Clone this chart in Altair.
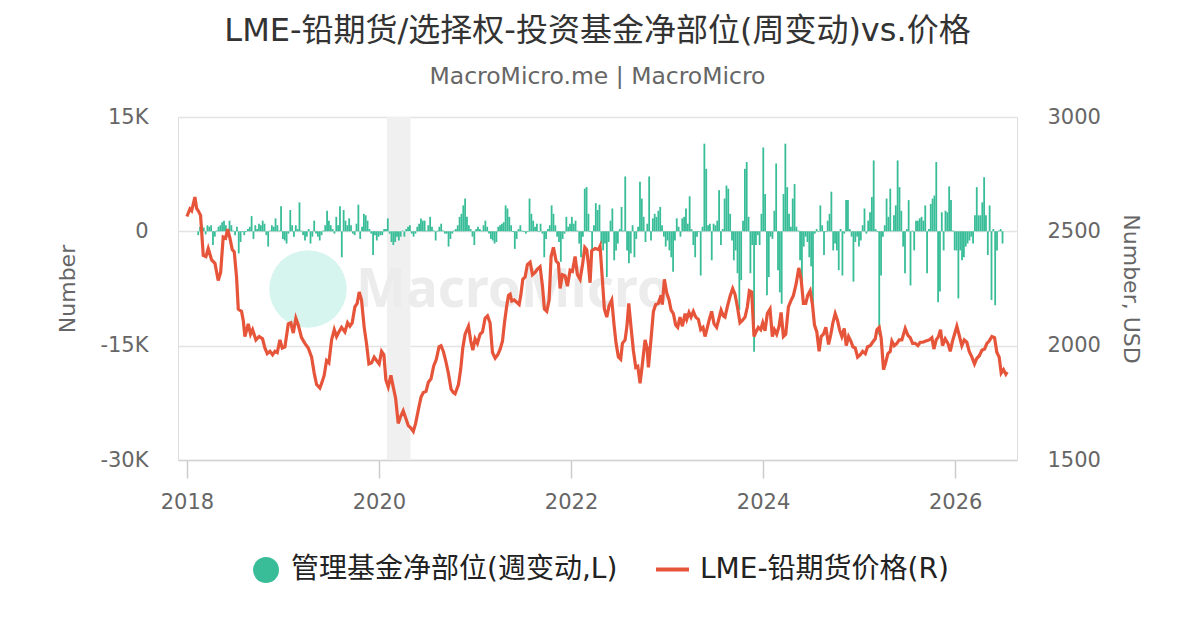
import altair as alt
import pandas as pd

TITLE = "LME-铅期货/选择权-投资基金净部位(周变动)vs.价格"
SUBTITLE = "MacroMicro.me | MacroMicro"
BAR_NAME = "管理基金净部位(週变动,L)"
LINE_NAME = "LME-铅期货价格(R)"
WATERMARK = "MacroMicro"

GREEN = "#38bd98"
RED = "#e6543a"
FONT = "DejaVu Sans"
MIXED_FONT = "DejaVu Sans, Noto Sans CJK SC, sans-serif"

# weekly change of managed-fund net position, thousands of contracts
BAR_START = "2018-02-13"
bars_2018_19 = [-0.5, 0.6, 0.7, 0.5, -0.4, 0.8, 0.6, 0.8, -1.8, -0.7,
                0.1, 0.6, 0.8, 1.2, 1.4, 0.8, -0.7, 1.4, 0.8, 0.1,
                -0.5, 0.6, -2.9, -1.4, -0.1, -0.5, -0.1, 0.3, 0.6, 2.0,
                -1.0, 0.8, 0.3, 1.0, 0.8, 1.4, 1.0, -0.5, -2.0, 0.1,
                0.8, 0.6, 1.7, 0.8, 0.1, 3.3, -1.0, -1.2, -1.6, -0.3,
                2.8, 0.8, -0.7, 0.8, 0.3, 3.8, 0.1, -0.5, -1.2, -0.7,
                0.3, -1.6, -0.7, 1.4, -0.3, -0.7, -1.2]
bars_2019_20 = [-0.5, 0.1, 0.8, 2.7, 1.4, 0.8, 0.3, -0.3, 1.9, 0.8,
                3.3, -3.4, 2.8, 1.4, 0.8, 1.7, 0.8, -0.3, -0.5, 1.0,
                3.5, -1.0, 0.6, 2.3, 2.1, 1.4, 0.3, -0.3, -3.1, -0.5,
                -1.2, -0.7, -0.5, -0.5, 0.3, 0.3, 1.7, -0.3, -1.4, -1.8,
                -1.4, -0.7, -1.2, -0.7, 0.1, -0.7, 0.3, 0.6, 0.8, -0.3,
                -0.7, -0.3, 0.6, 1.0, 1.7, 1.4, 1.4, 0.1, 0.8, 1.9,
                0.6, 0.1, -1.2, 0.1, 0.6, 1.0, 0.1, -0.3, -0.3, -2.0,
                -1.0, -0.3, 0.1]
bars_2020_22 = [0.3, 0.8, 1.9, 2.3, 3.4, 4.3, 1.9, 0.8, 0.3, -0.7,
                -1.8, 0.3, 0.6, 0.3, 0.1, 0.8, 1.4, 0.6, -0.3, -1.0,
                -1.2, -1.6, -1.4, 0.6, 0.8, 1.0, 1.2, 3.4, 3.0, 1.9,
                0.8, -0.1, -2.3, -1.0, 0.3, 0.8, 0.1, -0.1, -0.3, -0.1,
                4.3, 2.3, 1.4, 0.6, 1.0, -0.1, 1.0, -0.3, -3.4, -1.0,
                0.3, 0.8, 3.4, 2.3, 0.8, -0.7, -1.4, -4.0, -1.0, -0.3,
                1.9, 0.6, 1.0, 1.9, 1.0, 1.4, 0.1, -1.6, -3.4, -0.7,
                5.6, 5.8, 2.3]
bars_2022_23 = [-0.1, -2.5, 0.8, 3.7, 2.8, 3.5, -1.6, -2.5, -1.6, -6.0,
                -1.4, 1.4, 3.0, -3.8, -2.5, -1.6, 0.3, 3.2, 0.1, 7.2,
                -2.5, -4.2, -2.9, 0.8, -3.4, -1.0, 0.6, 6.5, 4.3, 1.9,
                -1.4, 1.0, 7.2, -1.2, 1.7, 2.3, 1.9, 2.7, 3.2, 0.8,
                -0.7, -2.0, -1.2, -2.5, -3.4, -5.3, -1.2, 1.7, 0.6, -0.7,
                1.7, 1.9, 3.0, 1.0, 4.6, 0.3, -1.8, -3.4, -0.7, -0.1,
                -5.8, 0.6, 11.5, 8.2, 0.8, 1.0, -3.8, 1.0, 0.8, 1.4,
                5.4, -1.8]
bars_2023_24 = [0.3, 4.3, 6.0, 5.6, 2.3, -1.2, -3.8, -2.5, -5.5, -10.3,
                -6.4, 1.4, 8.2, 9.1, 1.9, -5.5, -1.8, -15.8, -1.8, -0.5,
                -1.8, 2.3, 11.0, 4.9, -8.4, -6.0, -0.7, -1.0, 2.7, 8.9,
                -5.1, -8.0, -9.5, 4.9, 11.5, 5.8, 2.3, 0.6, 4.3, 6.2,
                0.6, 0.1, -3.8, -7.1, -2.0, -0.7, -1.4, -3.4, -4.6, -10.8,
                -0.3, 0.3, -0.1, 3.4, 0.8, -3.1, -0.1, 1.4, 2.3, 5.2,
                -2.5, -1.6, -2.5, -5.1, 0.3, -5.8, -0.3, 4.1, 4.1, 0.3,
                -0.7, -6.6, -1.4]
bars_2025_26 = [-0.7, -2.0, -1.2, 0.8, 3.0, -0.3, 1.4, 2.5, 4.5, 9.3,
                0.3, -0.1, -13.6, -5.8, -0.7, 0.8, 4.3, 1.9, 5.6, 0.1,
                2.1, 3.4, 9.3, 5.8, 2.7, -2.0, -5.5, 0.3, 4.1, -7.1,
                0.1, -2.5, 1.4, 1.4, 1.7, 1.9, 1.4, 3.4, -5.5, 0.3,
                3.6, 4.3, 4.7, 9.1, -9.3, -7.9, 2.5, -2.5, 2.7, 2.5,
                5.9, 4.1, 0.1, -2.5, -2.5, -8.8, -2.5, -3.8, -3.4, -2.0,
                -1.6, -1.2, -0.7, -1.6, 2.1, 5.8, 2.1, 2.1, 3.8, 7.1,
                2.1, -3.1, 3.4, -9.0, 0.3, -9.7, -2.5, 0.1, 0.3, -1.6]

# LME lead price (USD), (decimal year, price)
price_2018_19 = [(2018.000, 2565), (2018.031, 2598), (2018.049, 2590), (2018.083, 2650),
                 (2018.101, 2600), (2018.118, 2590), (2018.142, 2570), (2018.170, 2395),
                 (2018.198, 2390), (2018.222, 2425), (2018.257, 2375), (2018.292, 2360),
                 (2018.326, 2285), (2018.351, 2320), (2018.378, 2475), (2018.403, 2470),
                 (2018.424, 2510), (2018.448, 2470), (2018.472, 2420), (2018.493, 2410),
                 (2018.517, 2300), (2018.535, 2160), (2018.569, 2150), (2018.587, 2110),
                 (2018.604, 2040), (2018.639, 2095), (2018.663, 2050), (2018.684, 2070),
                 (2018.719, 2025), (2018.753, 2040), (2018.788, 2030), (2018.812, 1990),
                 (2018.837, 1965), (2018.865, 1975), (2018.892, 1960), (2018.917, 1975),
                 (2018.941, 1970), (2018.969, 2025), (2018.993, 1990), (2019.021, 1995),
                 (2019.056, 2095), (2019.083, 2100), (2019.108, 2055), (2019.135, 2120),
                 (2019.160, 2090), (2019.194, 2035), (2019.229, 2010), (2019.264, 1990),
                 (2019.299, 1950), (2019.326, 1880), (2019.351, 1830), (2019.385, 1815)]
price_2019_20 = [(2019.403, 1835), (2019.430, 1870), (2019.455, 1935), (2019.479, 1925),
                 (2019.507, 2025), (2019.535, 2070), (2019.559, 2040), (2019.583, 2060),
                 (2019.611, 2080), (2019.646, 2060), (2019.674, 2100), (2019.698, 2085),
                 (2019.722, 2100), (2019.750, 2170), (2019.774, 2185), (2019.795, 2235),
                 (2019.819, 2200), (2019.847, 2080), (2019.871, 2010), (2019.896, 1920),
                 (2019.924, 1925), (2019.951, 1950), (2019.976, 1935), (2020.003, 1920),
                 (2020.028, 1975), (2020.052, 1960), (2020.073, 1850), (2020.097, 1820),
                 (2020.125, 1870), (2020.149, 1820), (2020.174, 1770), (2020.201, 1660),
                 (2020.226, 1690), (2020.253, 1715), (2020.278, 1685), (2020.306, 1650),
                 (2020.333, 1640), (2020.358, 1625), (2020.382, 1660), (2020.410, 1720),
                 (2020.438, 1775), (2020.462, 1795), (2020.490, 1800), (2020.514, 1840),
                 (2020.542, 1855), (2020.569, 1910), (2020.597, 1940), (2020.625, 1995),
                 (2020.646, 2000), (2020.670, 1975), (2020.694, 1935), (2020.722, 1880),
                 (2020.750, 1810), (2020.774, 1795)]
price_2020_22 = [(2020.792, 1790), (2020.827, 1830), (2020.851, 1900), (2020.872, 1990),
                 (2020.896, 2050), (2020.931, 2085), (2020.955, 2020), (2020.976, 1980),
                 (2021.000, 2030), (2021.024, 2010), (2021.052, 2050), (2021.077, 2060),
                 (2021.104, 2120), (2021.129, 2130), (2021.156, 2100), (2021.181, 1970),
                 (2021.209, 1945), (2021.236, 1960), (2021.261, 1985), (2021.285, 2020),
                 (2021.306, 2100), (2021.330, 2175), (2021.348, 2220), (2021.365, 2225),
                 (2021.382, 2195), (2021.407, 2200), (2021.434, 2190), (2021.459, 2180),
                 (2021.476, 2220), (2021.497, 2290), (2021.521, 2300), (2021.545, 2355),
                 (2021.573, 2365), (2021.598, 2310), (2021.625, 2320), (2021.650, 2335),
                 (2021.677, 2345), (2021.702, 2260), (2021.722, 2160), (2021.747, 2150),
                 (2021.771, 2200), (2021.792, 2390), (2021.816, 2430), (2021.844, 2370),
                 (2021.868, 2360), (2021.886, 2250), (2021.910, 2310), (2021.938, 2305),
                 (2021.962, 2260), (2021.990, 2330), (2022.014, 2325), (2022.042, 2390),
                 (2022.066, 2310), (2022.094, 2290), (2022.118, 2350), (2022.143, 2430),
                 (2022.163, 2420)]
price_2022_23 = [(2022.181, 2355), (2022.198, 2275), (2022.215, 2415), (2022.250, 2425),
                 (2022.285, 2420), (2022.302, 2435), (2022.326, 2290), (2022.347, 2160),
                 (2022.372, 2125), (2022.396, 2175), (2022.424, 2200), (2022.448, 2090),
                 (2022.469, 2010), (2022.493, 1950), (2022.517, 1940), (2022.535, 2010),
                 (2022.563, 2025), (2022.583, 2090), (2022.601, 2185), (2022.625, 2080),
                 (2022.649, 1980), (2022.674, 1905), (2022.695, 1910), (2022.719, 1835),
                 (2022.743, 1920), (2022.771, 2025), (2022.792, 1990), (2022.806, 1905),
                 (2022.830, 2015), (2022.858, 2150), (2022.882, 2180), (2022.910, 2185),
                 (2022.938, 2220), (2022.951, 2180), (2022.972, 2290), (2022.997, 2230),
                 (2023.021, 2200), (2023.042, 2155), (2023.066, 2140), (2023.090, 2090),
                 (2023.111, 2080), (2023.135, 2125), (2023.160, 2085), (2023.188, 2140),
                 (2023.205, 2115), (2023.229, 2145), (2023.250, 2125), (2023.274, 2150),
                 (2023.299, 2125), (2023.326, 2115), (2023.351, 2070), (2023.375, 2080),
                 (2023.396, 2040), (2023.420, 2080), (2023.444, 2120), (2023.465, 2150),
                 (2023.490, 2095), (2023.517, 2080), (2023.542, 2120), (2023.563, 2155),
                 (2023.587, 2130)]
price_2023_24 = [(2023.604, 2125), (2023.628, 2170), (2023.656, 2215), (2023.684, 2250),
                 (2023.708, 2225), (2023.733, 2170), (2023.760, 2100), (2023.785, 2110),
                 (2023.813, 2125), (2023.837, 2170), (2023.858, 2240), (2023.882, 2235),
                 (2023.906, 2040), (2023.927, 2060), (2023.951, 2080), (2023.976, 2070),
                 (2023.997, 2100), (2024.021, 2065), (2024.045, 2140), (2024.073, 2160),
                 (2024.097, 2040), (2024.118, 2070), (2024.142, 2050), (2024.167, 2085),
                 (2024.188, 2145), (2024.212, 2040), (2024.236, 2050), (2024.264, 2170),
                 (2024.288, 2195), (2024.316, 2220), (2024.344, 2270), (2024.372, 2340),
                 (2024.396, 2290), (2024.420, 2185), (2024.444, 2185), (2024.465, 2220),
                 (2024.490, 2240), (2024.514, 2180), (2024.535, 2090), (2024.559, 2060),
                 (2024.583, 1975), (2024.604, 2040), (2024.628, 2050), (2024.653, 2080),
                 (2024.681, 2005), (2024.705, 2050), (2024.726, 2100), (2024.750, 2140),
                 (2024.774, 2110), (2024.795, 2070), (2024.819, 2040), (2024.844, 2075),
                 (2024.865, 2000), (2024.889, 2040), (2024.913, 2020), (2024.934, 1995),
                 (2024.958, 1990), (2024.983, 1950)]
price_2025_26 = [(2025.010, 1960), (2025.035, 1975), (2025.063, 1965), (2025.087, 1995),
                 (2025.115, 2000), (2025.139, 2015), (2025.167, 2030), (2025.184, 2070),
                 (2025.208, 2080), (2025.229, 2030), (2025.253, 1895), (2025.278, 1930),
                 (2025.299, 1965), (2025.323, 1975), (2025.340, 2020), (2025.365, 2000),
                 (2025.392, 2010), (2025.417, 2025), (2025.444, 2025), (2025.479, 2075),
                 (2025.507, 2045), (2025.531, 2035), (2025.556, 2010), (2025.583, 2010),
                 (2025.611, 2000), (2025.635, 2015), (2025.663, 2015), (2025.694, 2020),
                 (2025.729, 2025), (2025.757, 2035), (2025.778, 1985), (2025.802, 2025),
                 (2025.826, 2040), (2025.847, 2070), (2025.868, 2000), (2025.896, 2030),
                 (2025.924, 2010), (2025.948, 1975), (2025.972, 2020), (2025.993, 2050),
                 (2026.017, 2085), (2026.042, 2045), (2026.069, 2000), (2026.094, 2025),
                 (2026.121, 2015), (2026.146, 1975), (2026.174, 1950), (2026.201, 1920),
                 (2026.226, 1945), (2026.250, 1955), (2026.278, 1980), (2026.306, 1985),
                 (2026.330, 2010), (2026.354, 2020), (2026.382, 2040), (2026.410, 2035),
                 (2026.434, 1970), (2026.458, 1950), (2026.479, 1880), (2026.503, 1895),
                 (2026.528, 1875), (2026.542, 1885)]

RECESSION = [("2020-02-01", "2020-04-30")]

LEFT_TICKS = [-30, -15, 0, 15]
RIGHT_TICKS = [1500, 2000, 2500, 3000]
YEAR_TICKS = [2018, 2020, 2022, 2024, 2026]


def decimal_year(t):
    y = int(t)
    a = pd.Timestamp(y, 1, 1)
    b = pd.Timestamp(y + 1, 1, 1)
    return a + (b - a) * (t - y)


bar_values = (bars_2018_19 + bars_2019_20 + bars_2020_22 +
              bars_2022_23 + bars_2023_24 + bars_2025_26)
bars_df = pd.DataFrame({
    "date": pd.date_range(BAR_START, periods=len(bar_values), freq="7D"),
    "value": bar_values,
    "series": BAR_NAME,
})

price_pts = price_2018_19 + price_2019_20 + price_2020_22 + price_2022_23 + price_2023_24 + price_2025_26
line_df = pd.DataFrame({
    "date": [decimal_year(t) for t, _ in price_pts],
    "price": [p for _, p in price_pts],
    "series": LINE_NAME,
})

rec_df = pd.DataFrame({
    "start": [pd.Timestamp(s) for s, _ in RECESSION],
    "end": [pd.Timestamp(e) for _, e in RECESSION],
})
wm_df = pd.DataFrame({"label": [WATERMARK]})

x_scale = alt.Scale(domain=[alt.DateTime(year=2017, month=11, date=28),
                            alt.DateTime(year=2026, month=8, date=24)],
                    padding=0, nice=False)
x_axis = alt.Axis(
    values=[alt.DateTime(year=y, month=1, date=1) for y in YEAR_TICKS],
    format="%Y", title=None, grid=False, domain=True,
    tickSize=18, tickColor="#cccccc", tickWidth=1.5,
    domainColor="#d4d4d4", domainWidth=1.5,
    labelFont=FONT, labelFontSize=21, labelColor="#666666",
    labelPadding=13, labelFlush=False,
)

band = alt.Chart(rec_df).mark_rect(color="#f0f0f0").encode(
    x=alt.X("start:T", scale=x_scale, axis=x_axis),
    x2="end:T",
)

wm_circle = alt.Chart(wm_df).mark_point(
    filled=True, shape="circle", size=6000, color="#d6f5ee", opacity=1
).encode(x=alt.value(130), y=alt.value(172))

wm_text = alt.Chart(wm_df).mark_text(
    font="Noto Sans", fontSize=53, fontWeight="bold", color="#ececec",
    align="left", baseline="middle"
).encode(text="label:N", x=alt.value(178), y=alt.value(174))

bars = alt.Chart(bars_df).mark_bar(size=1.8).encode(
    x=alt.X("date:T", scale=x_scale, axis=x_axis),
    y=alt.Y("value:Q", scale=alt.Scale(domain=[-30, 15], nice=False, zero=False),
            axis=alt.Axis(values=LEFT_TICKS,
                          labelExpr="datum.value == 0 ? '0' : datum.value + 'K'",
                          grid=True, gridColor="#e3e3e3", gridWidth=1.5,
                          domain=False, ticks=False, labelPadding=30,
                          labelFont=FONT, labelFontSize=21, labelColor="#666666",
                          title="Number", titleFont=FONT, titleFontSize=22,
                          titleColor="#666666", titleFontWeight="normal", titlePadding=20)),
    fill=alt.Fill("series:N", scale=alt.Scale(domain=[BAR_NAME], range=[GREEN]),
                  legend=alt.Legend(title=None, orient="none", legendX=74, legendY=439,
                                    symbolType="circle", symbolSize=676,
                                    symbolStrokeWidth=0, padding=0,
                                    labelFont=MIXED_FONT, labelFontSize=28,
                                    labelColor="#222222", labelOffset=11, labelLimit=600)),
)

line = alt.Chart(line_df).mark_line(strokeWidth=3.2).encode(
    x=alt.X("date:T", scale=x_scale, axis=x_axis),
    y=alt.Y("price:Q", scale=alt.Scale(domain=[1500, 3000], nice=False, zero=False),
            axis=alt.Axis(values=RIGHT_TICKS, orient="right", grid=False, format="d",
                          domain=False, ticks=False, labelPadding=30,
                          labelFont=FONT, labelFontSize=21, labelColor="#666666",
                          title="Number, USD", titleFont=FONT, titleFontSize=22,
                          titleColor="#666666", titleFontWeight="normal", titlePadding=18)),
    stroke=alt.Stroke("series:N", scale=alt.Scale(domain=[LINE_NAME], range=[RED]),
                      legend=alt.Legend(title=None, orient="none", legendX=476, legendY=434,
                                        symbolType="stroke", symbolSize=1089,
                                        symbolStrokeWidth=4, padding=0,
                                        labelFont=MIXED_FONT, labelFontSize=28,
                                        labelColor="#222222", labelOffset=9, labelLimit=600)),
)

chart = alt.layer(band, wm_circle, wm_text, bars, line).resolve_scale(
    y="independent", fill="independent", stroke="independent"
).properties(
    width=839, height=343,
    autosize=alt.AutoSizeParams(type="none"),
    padding={"left": 170, "top": 109, "right": 175, "bottom": 162},
    title=alt.Title(TITLE, subtitle=SUBTITLE, anchor="middle",
                    font=MIXED_FONT, fontSize=32, fontWeight="normal", color="#333333",
                    subtitleFont=FONT, subtitleFontSize=23.5,
                    subtitleColor="#666666", subtitlePadding=17, offset=17),
).configure_view(
    stroke="#ffffff", strokeWidth=2, fill="#ffffff"
).configure_axis(
    labelFont=FONT, titleFont=FONT, domain=False
).configure_axisY(
    domain=False, ticks=False, domainOpacity=0
).configure_axisLeft(
    domain=False
).configure_axisRight(
    domain=False
).configure_axisX(
    grid=False
).configure(background="white")

chart.save("out.html", embed_options={"renderer": "svg", "actions": False})
